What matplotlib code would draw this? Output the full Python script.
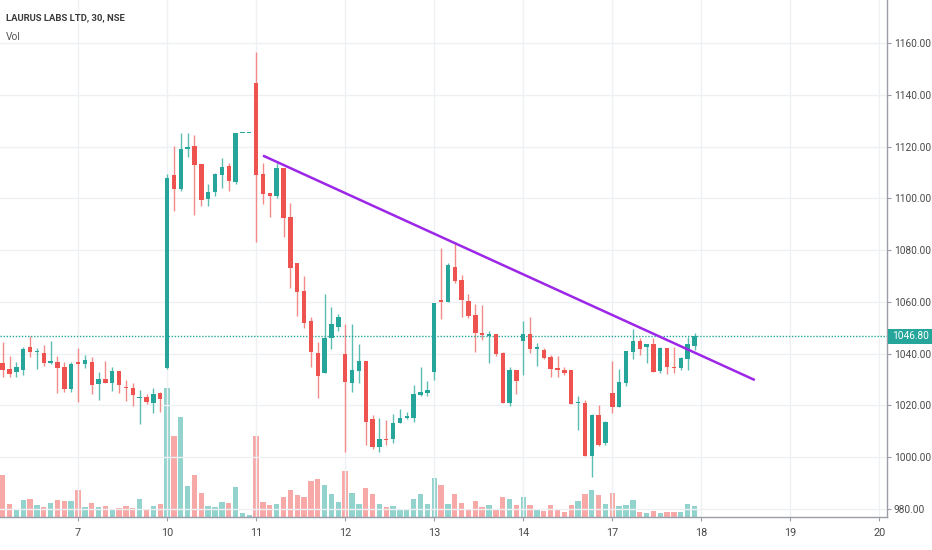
import matplotlib
matplotlib.use("Agg")
import matplotlib.pyplot as plt
from matplotlib.patches import Rectangle
import numpy as np

# ---------------- data (30-min bars, NSE) ----------------
opens = [1036.2, 1034.1, 1033.0, 1033.7, 1042.7, 1040.5, 1040.4, 1036.5, 1036.9, 1035.0,
         1026.3, 1036.9, 1035.9, 1036.9, 1028.3, 1030.2, 1028.8, 1033.3, 1027.3, 1026.6,
         1022.9, 1023.4, 1021.1, 1024.7, 1034.6, 1109.0, 1103.6, 1119.2, 1120.2, 1113.1,
         1099.7, 1102.6, 1109.0, 1112.6, 1106.4, 1125.4, 1125.4, 1144.7, 1109.3, 1102.2,
         1100.9, 1111.6, 1092.9, 1075.2, 1064.2, 1052.8, 1040.4, 1032.4, 1046.0, 1050.4,
         1039.9, 1028.8, 1033.4, 1037.3, 1014.6, 1003.8, 1007.2, 1006.9, 1013.1, 1015.3,
         1015.0, 1024.0, 1024.9, 1033.1, 1060.8, 1059.9, 1073.4, 1068.5, 1060.5, 1054.9,
         1047.9, 1047.0, 1047.5, 1040.4, 1020.8, 1033.7, 1044.9, 1047.5, 1041.8, 1041.3,
         1038.7, 1034.5, 1033.5, 1033.5, 1020.8, 1020.8, 1000.5, 1016.3, 1005.4, 1024.7,
         1019.5, 1028.5, 1040.8, 1044.9, 1042.7, 1043.7, 1033.3, 1042.1, 1035.0, 1034.3,
         1037.9, 1043.0]
highs = [1044.6, 1039.1, 1036.9, 1042.7, 1046.8, 1042.0, 1043.3, 1044.9, 1039.1, 1036.9,
         1036.9, 1042.0, 1039.5, 1038.6, 1032.8, 1037.3, 1034.7, 1033.3, 1029.8, 1028.5,
         1026.0, 1024.4, 1026.6, 1025.3, 1109.3, 1120.2, 1125.4, 1125.4, 1124.5, 1113.1,
         1105.4, 1109.9, 1115.7, 1113.8, 1125.4, 1125.4, 1125.4, 1156.7, 1113.8, 1102.2,
         1113.8, 1111.6, 1098.3, 1075.2, 1070.0, 1054.3, 1044.6, 1063.1, 1058.2, 1055.3,
         1051.5, 1051.5, 1043.7, 1037.3, 1016.3, 1015.0, 1014.4, 1016.6, 1018.5, 1017.6,
         1027.9, 1034.7, 1029.6, 1059.4, 1080.7, 1075.0, 1082.4, 1070.4, 1063.1, 1059.2,
         1058.8, 1048.9, 1047.5, 1040.8, 1035.0, 1033.7, 1052.7, 1054.0, 1044.3, 1042.1,
         1039.5, 1039.1, 1034.7, 1033.5, 1023.6, 1022.1, 1016.7, 1020.2, 1014.0, 1037.3,
         1034.0, 1041.2, 1049.4, 1045.9, 1043.6, 1045.9, 1042.5, 1042.1, 1042.7, 1038.8,
         1046.6, 1048.1]
lows = [1030.8, 1030.8, 1031.1, 1031.6, 1038.8, 1034.1, 1035.3, 1035.9, 1024.9, 1025.3,
        1025.3, 1021.5, 1034.6, 1024.4, 1022.1, 1028.5, 1025.7, 1024.7, 1021.8, 1019.8,
        1012.8, 1020.5, 1017.2, 1017.6, 1034.0, 1095.2, 1103.0, 1115.8, 1093.6, 1097.2,
        1097.0, 1100.7, 1103.9, 1103.0, 1105.5, 1125.4, 1125.4, 1083.3, 1097.8, 1092.9,
        1100.0, 1085.2, 1065.2, 1054.7, 1049.8, 1034.7, 1022.8, 1032.4, 1041.7, 1048.8,
        1002.2, 1025.3, 1028.8, 1004.7, 1003.1, 1002.2, 1004.7, 1005.6, 1013.1, 1014.6,
        1013.7, 1023.7, 1023.7, 1030.0, 1053.5, 1059.9, 1067.2, 1054.0, 1053.9, 1040.8,
        1045.3, 1036.3, 1039.1, 1020.8, 1019.9, 1024.3, 1031.8, 1040.1, 1035.2, 1037.8,
        1030.8, 1031.1, 1031.8, 1020.7, 1010.5, 1000.5, 992.5, 1004.3, 1004.8, 1017.0,
        1019.5, 1027.5, 1037.9, 1039.5, 1036.5, 1032.9, 1032.6, 1032.0, 1032.4, 1033.7,
        1033.7, 1041.4]
closes = [1033.7, 1032.1, 1034.8, 1041.7, 1040.8, 1041.2, 1036.5, 1037.2, 1034.6, 1026.3,
          1036.0, 1036.0, 1037.6, 1027.9, 1030.2, 1028.5, 1033.3, 1027.8, 1026.6, 1024.0,
          1023.4, 1021.5, 1024.3, 1022.4, 1107.7, 1103.6, 1118.9, 1119.8, 1112.9, 1099.4,
          1102.6, 1109.4, 1112.2, 1106.8, 1125.4, 1125.4, 1125.4, 1109.0, 1101.7, 1101.0,
          1111.6, 1092.5, 1073.2, 1064.0, 1052.0, 1040.8, 1031.5, 1046.2, 1051.5, 1054.3,
          1028.9, 1033.7, 1037.3, 1013.5, 1004.1, 1007.0, 1006.7, 1013.4, 1015.0, 1015.8,
          1024.3, 1025.3, 1026.0, 1059.4, 1059.8, 1074.4, 1068.2, 1060.7, 1054.7, 1047.9,
          1047.1, 1047.5, 1039.7, 1020.8, 1033.7, 1029.6, 1047.5, 1041.8, 1042.4, 1038.4,
          1034.2, 1033.5, 1032.5, 1020.7, 1021.2, 1000.5, 1016.3, 1004.7, 1013.7, 1019.5,
          1028.9, 1041.2, 1044.9, 1041.7, 1043.6, 1032.9, 1042.1, 1035.0, 1034.3, 1038.2,
          1043.7, 1046.8]
# volume, thousand shares
volumes = [42.3, 13.3, 7.7, 17.3, 18.3, 12.3, 10.0, 14.3, 17.3, 15.7,
           15.7, 27.3, 9.7, 14.3, 9.7, 11.0, 6.7, 8.7, 11.0, 8.7,
           18.3, 8.0, 11.0, 13.3, 129.0, 81.5, 100.0, 31.0, 42.0, 24.5,
           11.3, 10.2, 14.8, 13.8, 29.7, 3.8, 1.8, 80.7, 15.3, 12.0,
           13.3, 20.0, 27.3, 22.3, 20.0, 36.0, 38.3, 31.7, 23.0, 15.3,
           45.7, 24.0, 13.3, 29.3, 23.3, 13.3, 10.0, 11.3, 7.7, 7.7,
           17.7, 23.0, 13.3, 38.8, 32.0, 13.0, 22.7, 14.3, 8.3, 16.3,
           9.7, 12.0, 8.0, 19.7, 18.3, 11.7, 20.3, 12.0, 8.3, 6.3,
           12.0, 7.7, 5.3, 12.0, 16.3, 22.7, 27.3, 22.0, 13.0, 24.0,
           10.7, 11.7, 17.3, 5.3, 4.3, 6.3, 4.3, 5.3, 5.3, 5.3,
           13.0, 10.7]
day_labels = ["7", "10", "11", "12", "13", "14", "17", "18", "19", "20"]
first_full_session_bar = 11
bars_per_session = 13
price_ticks = [980, 1000, 1020, 1040, 1060, 1080, 1100, 1120, 1140, 1160]
last_price = 1046.80
trend_x = [38.0, 109.8]
trend_y = [1116.5, 1029.8]
title = "LAURUS LABS LTD, 30, NSE"

# ---------------- style ----------------
UP = "#26a69a"
DOWN = "#ef5350"
UP_WICK = "#5cbdb3"
DOWN_WICK = "#f48a87"
UP_VOL = "#93d3cd"
DOWN_VOL = "#f7a9a8"
GRID = "#eef0f4"
AXIS = "#9a9ea8"
TXT = "#4a4a4a"
FONT = ["Roboto", "DejaVu Sans"]

W, H = 932, 550
fig = plt.figure(figsize=(W / 100, H / 100), dpi=100)
fig.patch.set_facecolor("white")
ax_l, ax_b = 0.0, (H - 517) / H
ax_w, ax_h = 887 / W, 517 / H
ax = fig.add_axes([ax_l, ax_b, ax_w, ax_h])
axv = ax.twinx()
axv.set_zorder(0)
ax.set_zorder(1)
ax.patch.set_visible(False)

n = len(opens)
x = np.arange(n)
o = np.array(opens); h = np.array(highs); l = np.array(lows); c = np.array(closes)
up = c >= o

xlim = (-0.39, 129.1)
ylim = (976.9, 1176.6)
ax.set_xlim(*xlim)
axv.set_xlim(*xlim)
ax.set_ylim(*ylim)
axv.set_ylim(0, 517)

# grid
for p in price_ticks:
    ax.axhline(p, color=GRID, lw=1.0, zorder=0)
tick_pos = [first_full_session_bar + bars_per_session * k for k in range(len(day_labels))]
for tp in tick_pos:
    ax.axvline(tp, color=GRID, lw=1.0, zorder=0)

# volume
vcol = [UP_VOL if u else DOWN_VOL for u in up]
axv.bar(x, volumes, width=0.78, color=vcol, zorder=1)
axv.set_yticks([])
for s in axv.spines.values():
    s.set_visible(False)

# candles
wcol = [UP_WICK if u else DOWN_WICK for u in up]
ax.vlines(x, l, h, colors=wcol, lw=1.0, zorder=2)
body_bottom = np.minimum(o, c)
body_h = np.maximum(np.abs(c - o), 0.35)
bcol = [UP if u else DOWN for u in up]
ax.bar(x, body_h, bottom=body_bottom, width=0.64, color=bcol, zorder=3, linewidth=0)

# trend line
ax.plot(trend_x, trend_y, color="#9c27e8", lw=1.8, zorder=4, solid_capstyle="butt")

# last price line
ax.axhline(last_price, color=UP, lw=1.0, ls=(0, (1, 1.2)), zorder=2)

# axes styling
for k in ["top", "left"]:
    ax.spines[k].set_visible(False)
ax.spines["right"].set_color(AXIS)
ax.spines["bottom"].set_color(AXIS)
ax.spines["right"].set_linewidth(1.0)
ax.spines["bottom"].set_linewidth(1.0)
ax.yaxis.tick_right()
ax.set_yticks(price_ticks)
ax.set_yticklabels([f"{p:.2f}" for p in price_ticks], fontsize=7.3, color=TXT, family=FONT)
ax.tick_params(axis="y", length=3, width=0.8, color=AXIS, pad=2)
ax.set_xticks(tick_pos)
ax.set_xticklabels(day_labels, fontsize=7.8, color=TXT, family=FONT)
ax.tick_params(axis="x", length=3, width=0.8, color=AXIS, pad=5)

# last price label box
yfig = ax_b + ax_h * (last_price - ylim[0]) / (ylim[1] - ylim[0])
fig.patches.append(Rectangle((888 / W, yfig - 7.5 / H), 44 / W, 15 / H,
                             transform=fig.transFigure, facecolor=UP, edgecolor="none", zorder=5))
fig.text(910.5 / W, yfig, f"{last_price:.2f}", color="white", fontsize=7.3, family=FONT,
         ha="center", va="center", zorder=6)

# titles
fig.text(6 / W, 1 - 18 / H, title, fontsize=6.8, weight="bold", color="#3a3a3a", family=FONT, va="center")
fig.text(6 / W, 1 - 37 / H, "Vol", fontsize=7.3, color="#555555", family=FONT, va="center")

fig.savefig("out.png", dpi=100, facecolor="white")
